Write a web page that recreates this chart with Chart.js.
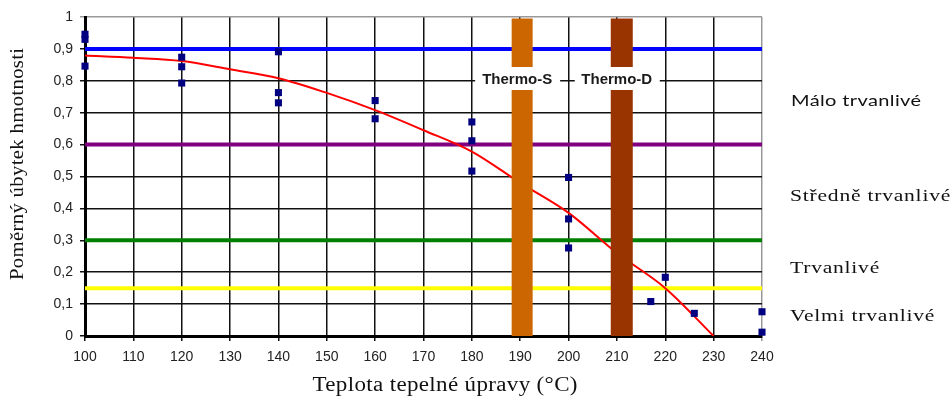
<!DOCTYPE html>
<html lang="cs">
<head>
<meta charset="UTF-8">
<title>Poměrný úbytek hmotnosti</title>
<script src="https://cdn.jsdelivr.net/npm/chart.js@4.4.1/dist/chart.umd.min.js"></script>
<style>
    html, body { margin: 0; padding: 0; background: #fff; }
    #wrap { width: 951px; height: 398px; }
</style>
</head>
<body>
<div id="wrap"><canvas id="chart" width="951" height="398"></canvas></div>
<script>
// teploty a hodnoty vyrovnávací křivky
const curveTemps = [100, 110, 120, 130, 140, 150, 160, 170, 180, 190, 200, 210, 220, 230];
const curveValues = [0.879, 0.872, 0.862, 0.836, 0.808, 0.762, 0.708, 0.645, 0.578, 0.48, 0.386, 0.26, 0.15, 0];

// naměřené vzorky
const sampleTemps = [100, 100, 100, 120, 120, 120, 140, 140, 140, 160, 160, 180, 180, 180, 200, 200, 200, 217, 220, 226, 240, 240];
const sampleValues = [0.946, 0.930, 0.846, 0.874, 0.844, 0.793, 0.891, 0.763, 0.731, 0.738, 0.681, 0.671, 0.612, 0.517, 0.497, 0.367, 0.276, 0.108, 0.184, 0.071, 0.076, 0.012];

// hranice tříd trvanlivosti
const classLimits = [0.9, 0.6, 0.3, 0.15];
const classColors = ['#0000ff', '#800080', '#008000', '#ffff00'];
const classNames = ['Málo trvanlivé', 'Středně trvanlivé', 'Trvanlivé', 'Velmi trvanlivé'];

// teplotní úpravy Thermo-S a Thermo-D
const treatNames = ['Thermo-S', 'Thermo-D'];
const treatTemps = [190.4, 211.0];
const treatColors = ['#cc6600', '#993300'];

const xTicks = { min: 100, max: 240, step: 10 };
const yTicks = { min: 0, max: 1, step: 0.1 };

const pts = (xs, ys) => xs.map((x, i) => ({ x: x, y: ys[i] }));

const datasets = [];
classLimits.forEach((v, i) => {
    datasets.push({
        data: [{ x: xTicks.min, y: v }, { x: xTicks.max, y: v }],
        showLine: true, borderColor: classColors[i], borderWidth: 4,
        pointRadius: 0, order: 6
    });
});
datasets.push({
    data: pts(curveTemps, curveValues),
    showLine: true, borderColor: '#ff0000', borderWidth: 2,
    cubicInterpolationMode: 'monotone', pointRadius: 0, order: 5
});
treatTemps.forEach((t, i) => {
    datasets.push({
        data: [{ x: t, y: 0 }, { x: t, y: 0.995 }],
        showLine: true, borderColor: treatColors[i], borderWidth: i === 0 ? 21 : 22,
        borderCapStyle: 'butt', pointRadius: 0, order: 3
    });
});
datasets.push({
    data: pts(sampleTemps, sampleValues),
    backgroundColor: '#000080', borderColor: '#000080',
    pointStyle: 'rect', pointRadius: 5, borderWidth: 0, clip: false, order: 1
});

// text roztažený do šířky (se zadaným prostrkáním)
function drawText(ctx, text, x, y, font, sx, spacing, align) {
    ctx.save();
    ctx.font = font;
    ctx.letterSpacing = spacing + 'px';
    ctx.textAlign = 'left';
    const w = ctx.measureText(text).width - spacing;
    ctx.translate(x, y);
    ctx.scale(sx, 1);
    let start = 0;
    if (align === 'center') start = -w / 2;
    ctx.fillText(text, start, 0);
    ctx.restore();
}

const textPlugin = {
    id: 'texts',
    afterDatasetsDraw(chart) {
        const ctx = chart.ctx;
        const xs = chart.scales.x;
        // popisky Thermo na bílém podkladu
        ctx.save();
        treatNames.forEach((name, i) => {
            const cx = xs.getPixelForValue(treatTemps[i]) - 5;
            ctx.fillStyle = '#fff';
            ctx.fillRect(cx - 42, 67, 85, 23);
            ctx.fillStyle = '#1a1a1a';
            ctx.font = 'bold 15px "Liberation Sans", Arial, sans-serif';
            ctx.textAlign = 'center';
            ctx.textBaseline = 'alphabetic';
            ctx.fillText(name, cx, 84);
        });
        ctx.restore();
    },
    afterDraw(chart) {
        const ctx = chart.ctx;
        const ys = chart.scales.y;
        ctx.save();
        ctx.fillStyle = '#111';
        ctx.textBaseline = 'middle';
        // názvy tříd vpravo
        const bounds = [1].concat(classLimits, [0]);
        classNames.forEach((name, i) => {
            const mid = (bounds[i + 1] + bounds[i + 2]) / 2;
            const y = ys.getPixelForValue(mid) + 4;
            if (i === 0) {
                drawText(ctx, name, 791, y, '16px Lato, "Liberation Sans", sans-serif', 1.25, 0.3, 'left');
            } else {
                drawText(ctx, name, 790, y, '17px "Liberation Serif", "Times New Roman", serif', 1.27, 0.6, 'left');
            }
        });
        ctx.textBaseline = 'alphabetic';
        drawText(ctx, 'Teplota tepelné úpravy (°C)', 445, 391, '20px "Liberation Serif", "Times New Roman", serif', 1.15, 0.3, 'center');
        ctx.save();
        ctx.translate(23, 164);
        ctx.rotate(-Math.PI / 2);
        drawText(ctx, 'Poměrný úbytek hmotnosti', 0, 0, '18px "Liberation Serif", "Times New Roman", serif', 1.15, 0.3, 'center');
        ctx.restore();
        ctx.restore();
    }
};

new Chart(document.getElementById('chart'), {
    type: 'scatter',
    data: { datasets: datasets },
    plugins: [textPlugin],
    options: {
        responsive: false,
        animation: false,
        layout: { padding: { left: 0, right: 189, top: 17, bottom: 0 } },
        plugins: { legend: { display: false }, tooltip: { enabled: false } },
        scales: {
            x: {
                type: 'linear', min: xTicks.min, max: xTicks.max,
                afterFit: s => { s.height = 62; },
                ticks: {
                    stepSize: xTicks.step, padding: 8, color: '#222',
                    font: { family: '"Liberation Sans", Arial, sans-serif', size: 14 }
                },
                grid: {
                    color: c => (c.tick && c.tick.value === xTicks.max) ? '#999' : '#111',
                    lineWidth: 1.5, tickLength: 5
                },
                border: { color: '#000', width: 3 }
            },
            y: {
                type: 'linear', min: yTicks.min, max: yTicks.max,
                afterFit: s => { s.width = 85; },
                ticks: {
                    stepSize: yTicks.step, padding: 7, color: '#222',
                    font: { family: '"Liberation Sans", Arial, sans-serif', size: 14 },
                    callback: v => (Math.round(v * 10) / 10).toString().replace('.', ',')
                },
                grid: {
                    color: c => (c.tick && c.tick.value === yTicks.max) ? '#999' : '#111',
                    lineWidth: 1.5, tickLength: 5
                },
                border: { color: '#000', width: 3 }
            }
        }
    }
});
</script>
</body>
</html>
